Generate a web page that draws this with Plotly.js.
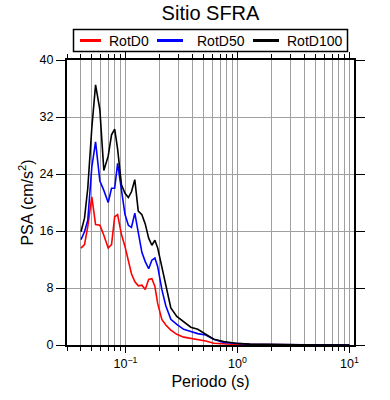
<!DOCTYPE html>
<html>
<head>
<meta charset="utf-8">
<script src="https://cdn.plot.ly/plotly-3.0.1.min.js"></script>
<style>html,body{margin:0;padding:0;background:#fff;}#chart{width:390px;height:400px;}</style>
</head>
<body>
<div id="chart"></div>
<script>
const periods = [0.040,0.043,0.046,0.050,0.054,0.059,0.064,0.070,0.075,0.080,0.085,0.092,0.099,0.106,0.113,0.121,0.130,0.140,0.150,0.161,0.172,0.183,0.194,0.211,0.229,0.254,0.287,0.331,0.383,0.442,0.521,0.614,0.755,0.966,1.29,1.95,3.6,10];
const rotd0 = [13.6,14.1,16.6,20.8,16.9,16.8,15.4,13.6,14.1,18.0,18.3,15.5,13.8,12.0,10.0,8.9,8.3,8.4,7.8,9.2,9.3,8.2,5.8,3.6,2.8,2.1,1.5,1.1,0.95,0.8,0.55,0.25,0.15,0.08,0.05,0.03,0.02,0.01];
const rotd50 = [14.8,15.9,17.5,25.0,28.5,23.0,21.7,20.0,22.0,22.0,25.5,22.0,18.3,16.8,16.5,18.5,15.8,13.0,11.7,10.7,11.9,12.2,11.0,7.8,5.5,3.6,2.9,2.2,1.9,1.6,1.4,0.8,0.35,0.2,0.1,0.05,0.02,0.01];
const rotd100 = [15.9,17.8,22.0,30.5,36.5,33.0,24.5,26.5,29.5,30.3,27.5,22.5,21.3,20.7,21.5,23.2,18.8,18.3,17.0,15.0,14.0,14.7,13.6,11.0,8.0,5.2,4.0,3.2,2.5,2.2,1.55,0.8,0.5,0.25,0.12,0.06,0.03,0.01];
const seriesNames = ['RotD0','RotD50','RotD100'];
const seriesColors = ['#ff0000','#0000ff','#000000'];
const xTickVals = [0.1,1,10];
const xTickText = ['10<sup>−1</sup>','10<sup>0</sup>','10<sup>1</sup>'];
const yTickVals = [0,8,16,24,32,40];

const W = 390, H = 400, M = {l: 67, r: 36, t: 60, b: 55};
const PW = W - M.l - M.r, PH = H - M.t - M.b;
const px2x = p => (p - M.l) / PW;
const px2y = p => (H - M.b - p) / PH;

const data = [rotd0, rotd50, rotd100].map((ys, i) => ({
  x: periods, y: ys, type: 'scatter', mode: 'lines', name: seriesNames[i],
  line: {color: seriesColors[i], width: 1.6}
}));

// legend drawn as box + samples + labels (layout decoration)
const legBox = {x0: 73.5, x1: 347.5, y0: 29.5, y1: 51.5};
const legItems = [{l0: 80, l1: 101, t: 107}, {l0: 157, l1: 183, t: 195}, {l0: 253, l1: 279, t: 285}];
const legMid = (legBox.y0 + legBox.y1) / 2;
const shapes = [{type: 'rect', xref: 'paper', yref: 'paper', x0: px2x(legBox.x0), x1: px2x(legBox.x1), y0: px2y(legBox.y1), y1: px2y(legBox.y0), line: {color: '#000', width: 1.5}, fillcolor: '#fff', layer: 'above'}];
const annotations = [];
legItems.forEach((it, i) => {
  shapes.push({type: 'line', xref: 'paper', yref: 'paper', x0: px2x(it.l0), x1: px2x(it.l1), y0: px2y(legMid), y1: px2y(legMid), line: {color: seriesColors[i], width: 3}, layer: 'above'});
  annotations.push({xref: 'paper', yref: 'paper', x: px2x(it.t), y: px2y(legMid), xanchor: 'left', yanchor: 'middle', text: seriesNames[i], showarrow: false, font: {size: 14, color: '#000'}});
});

const font = 'Liberation Sans, Arial, Helvetica, sans-serif';
const layout = {
  width: W, height: H,
  margin: M,
  paper_bgcolor: '#fff', plot_bgcolor: '#fff',
  font: {family: font, size: 12, color: '#000'},
  showlegend: false,
  shapes: shapes, annotations: annotations,
  title: {text: 'Sitio SFRA', font: {family: font, size: 20, color: '#000'}, x: 0.5, xref: 'paper', y: 1 - 13 / H, yref: 'container', yanchor: 'middle'},
  xaxis: {
    type: 'log', range: [Math.log10(0.03), Math.log10(11)],
    tickmode: 'array', tickvals: xTickVals, ticktext: xTickText,
    ticks: 'outside', ticklen: 6, tickwidth: 1, tickcolor: '#000',
    showline: true, linecolor: '#000', linewidth: 2, mirror: 'allticks',
    showgrid: true, gridcolor: '#a0a0a0', gridwidth: 1, zeroline: false,
    minor: {dtick: 'D1', ticks: 'outside', ticklen: 4, tickcolor: '#000', showgrid: true, gridcolor: '#a0a0a0', gridwidth: 1},
    tickfont: {size: 12.5, family: font},
    title: {text: 'Periodo (s)', font: {size: 16, family: font}, standoff: 6}
  },
  yaxis: {
    range: [0, 40], tickmode: 'array', tickvals: yTickVals,
    ticks: 'outside', ticklen: 9, tickwidth: 1, tickcolor: '#000',
    showline: true, linecolor: '#000', linewidth: 2, mirror: 'allticks',
    showgrid: true, gridcolor: '#a0a0a0', gridwidth: 1, zeroline: false,
    tickfont: {size: 12.5, family: font},
    title: {text: 'PSA (cm/s<sup>2</sup>)', font: {size: 16, family: font}, standoff: 2}
  }
};
Plotly.newPlot('chart', data, layout, {displayModeBar: false, staticPlot: true});
</script>
</body>
</html>
